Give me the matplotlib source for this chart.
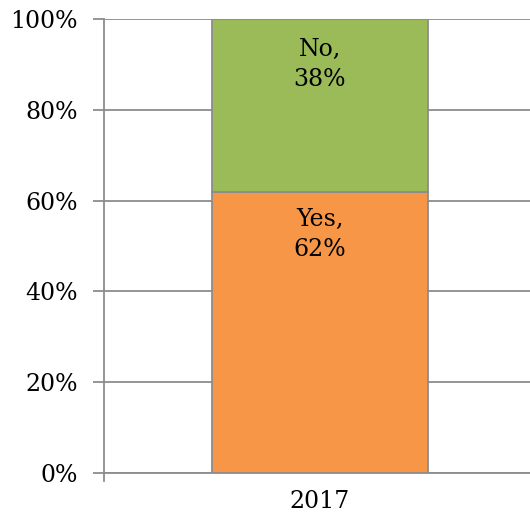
import matplotlib
matplotlib.use('Agg')
import matplotlib.pyplot as plt

# data
years = ['2017']
yes_vals = [62]
no_vals = [38]
yes_labels = ['Yes,\n62%']
no_labels = ['No,\n38%']

plt.rcParams['font.family'] = ['DejaVu Serif']

fig = plt.figure(figsize=(5.3, 5.25), dpi=100)
ax = fig.add_axes([104/530, 52/525, 426/530, 454/525])

grid_col = '#8c8c8c'
lw = 1.3
ax.bar(years, yes_vals, width=0.505, color='#F79646', edgecolor=grid_col, linewidth=lw, zorder=3)
ax.bar(years, no_vals, bottom=yes_vals, width=0.505, color='#9BBB59', edgecolor=grid_col, linewidth=lw, zorder=3)

# labels near the top of each segment
for i in range(len(years)):
    ax.text(i, yes_vals[i] - 9.5, yes_labels[i], ha='center', va='center', fontsize=17, linespacing=1.4, zorder=4)
    ax.text(i, yes_vals[i] + no_vals[i] - 10, no_labels[i], ha='center', va='center', fontsize=17, linespacing=1.4, zorder=4)

ax.set_xlim(-0.507, 0.493)
ax.set_ylim(0, 100)
ax.set_yticks(range(0, 101, 20))
ax.set_yticklabels([f'{v}%' for v in range(0, 101, 20)])
ax.yaxis.grid(True, color=grid_col, linewidth=lw, zorder=0)
ax.set_axisbelow(True)

for s in ['top', 'right']:
    ax.spines[s].set_visible(False)
ax.spines['left'].set_color(grid_col)
ax.spines['bottom'].set_color(grid_col)
ax.spines['left'].set_linewidth(lw)
ax.spines['bottom'].set_linewidth(lw)
ax.tick_params(axis='y', length=8, width=lw, color=grid_col, labelsize=17, pad=11)
ax.tick_params(axis='x', length=0, labelsize=17, pad=12)
ax.set_xticks([0])
ax.set_xticklabels(years)
# small tick below the axis at the left edge
ax.plot([-0.507, -0.507], [0, -1.8], color=grid_col, linewidth=lw, clip_on=False)

fig.savefig('out.png', dpi=100)
